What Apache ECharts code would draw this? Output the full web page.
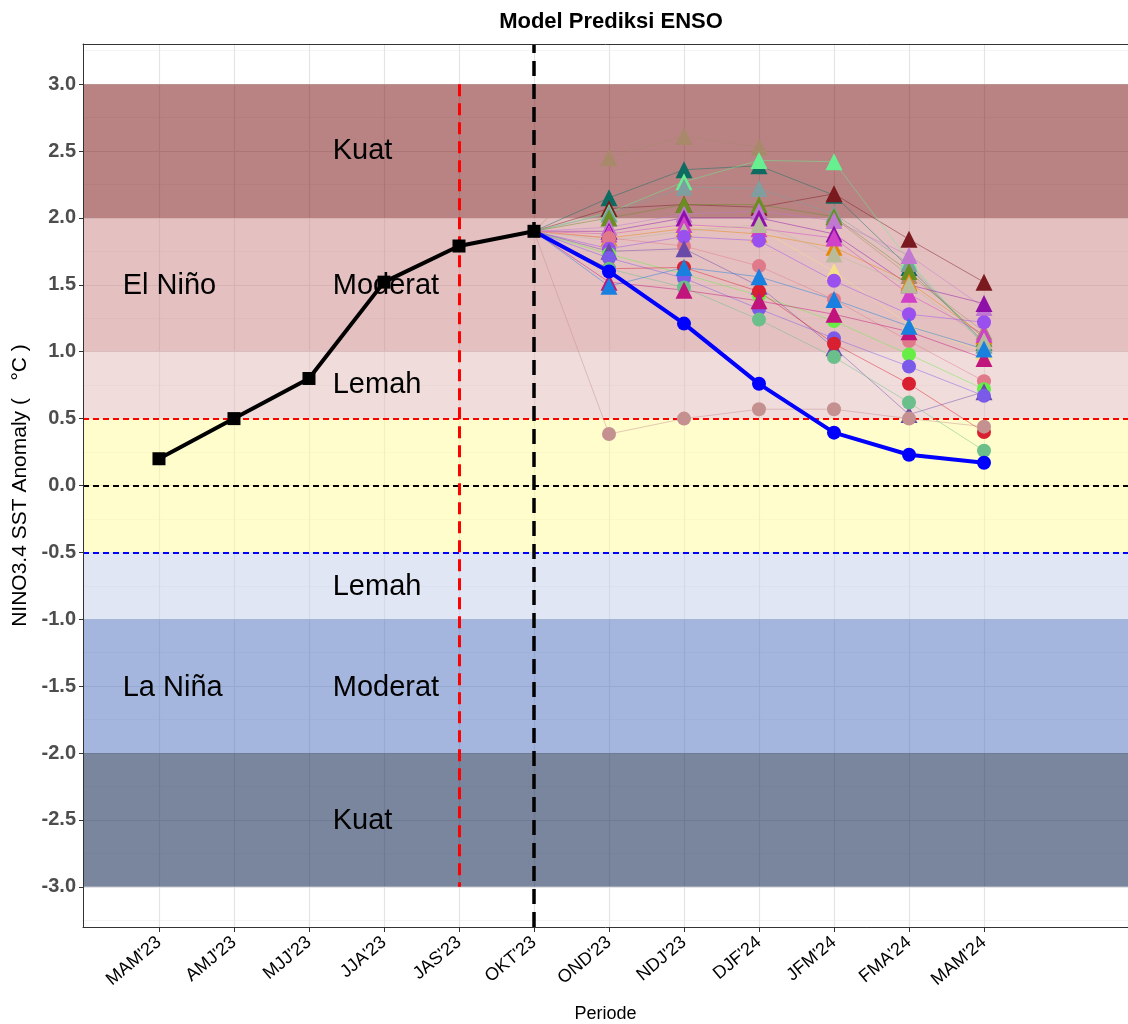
<!DOCTYPE html>
<html>
<head>
<meta charset="utf-8">
<script src="https://cdn.jsdelivr.net/npm/echarts@6/dist/echarts.min.js"></script>
<style>html,body{margin:0;padding:0;background:#fff}#c{width:1128px;height:1024px}</style>
</head>
<body>
<div id="c"></div>
<script>
// ---------- DATA ----------
const categories = ["MAM'23","AMJ'23","MJJ'23","JJA'23","JAS'23","OKT'23","OND'23","NDJ'23","DJF'24","JFM'24","FMA'24","MAM'24"];
const yTicks = [-3.0,-2.5,-2.0,-1.5,-1.0,-0.5,0.0,0.5,1.0,1.5,2.0,2.5,3.0];
const yMinorTicks = [-3.25,-2.75,-2.25,-1.75,-1.25,-0.75,-0.25,0.25,0.75,1.25,1.75,2.25,2.75,3.25];
// observed (MAM'23 .. OKT'23)
const observed = [0.20, 0.50, 0.80, 1.52, 1.79, 1.90];
// mean forecast (OKT'23 .. MAM'24)
const forecastMean = [1.90, 1.60, 1.21, 0.76, 0.395, 0.23, 0.17];
// individual models (OND'23 .. MAM'24); each starts from the OKT'23 value
const m01 = [2.45, 2.61, 2.53, 2.00, 1.57, 1.15];
const m02 = [2.15, 2.36, 2.39, 2.17, 1.63, 1.07];
const m03 = [2.07, 2.10, 2.08, 2.18, 1.84, 1.52];
const m04 = [2.04, 2.27, 2.43, 2.42, 1.68, 1.05];
const m05 = [2.03, 2.23, 2.22, 2.03, 1.66, 1.05];
const m06 = [2.00, 2.10, 2.10, 2.01, 1.60, 1.10];
const m07 = [1.93, 2.03, 2.05, 1.98, 1.72, 1.33];
const m08 = [1.90, 2.00, 2.00, 1.88, 1.50, 1.36];
const m09 = [1.88, 1.94, 1.92, 1.60, 1.20, 1.00];
const m10 = [1.85, 1.92, 1.88, 1.78, 1.52, 1.12];
const m11 = [1.88, 1.95, 1.92, 1.85, 1.43, 1.13];
const m12 = [1.83, 1.90, 1.95, 1.73, 1.50, 1.08];
const m13 = [1.85, 1.79, 1.64, 1.39, 1.08, 0.78];
const m14 = [1.77, 1.86, 1.83, 1.53, 1.28, 1.22];
const m15 = [1.73, 1.58, 1.42, 1.23, 0.98, 0.72];
const m16 = [1.75, 1.77, 1.49, 1.03, 0.53, 0.70];
const m17 = [1.70, 1.55, 1.32, 1.10, 0.89, 0.67];
const m18 = [1.62, 1.63, 1.45, 1.06, 0.76, 0.40];
const m19 = [1.62, 1.48, 1.24, 0.96, 0.62, 0.26];
const m20 = [1.52, 1.46, 1.38, 1.28, 1.15, 0.95];
const m21 = [1.49, 1.63, 1.56, 1.39, 1.19, 1.02];
const m22 = [0.385, 0.50, 0.57, 0.57, 0.50, 0.44];
// category bands (lower, upper)
const bandLimits = [[2,3],[1,2],[0.5,1],[-0.5,0.5],[-1,-0.5],[-2,-1],[-3,-2]];
// annotations: text, category-index x, y
const annotText = ["Kuat","Moderat","Lemah","El Niño","Lemah","La Niña","Moderat","Kuat"];
const annotX = [2.31, 2.31, 2.31, -0.49, 2.31, -0.49, 2.31, 2.31];
const annotY = [2.5, 1.49, 0.75, 1.49, -0.76, -1.51, -1.51, -2.51];

// ---------- STYLES ----------
const models = [m01,m02,m03,m04,m05,m06,m07,m08,m09,m10,m11,m12,m13,m14,m15,m16,m17,m18,m19,m20,m21,m22];
const modelColors = ['#a8896a','#0e6b62','#7a1a1f','#66f090','#7f9ea0','#6b8e23','#c078d0','#8e10a8','#f5e08a','#e8860a','#d040c8','#b8bc9a',
  '#e07a8a','#9a4fef','#66ee44','#6a4aa8','#7a5ae8','#d82030','#6abf8a','#c0147c','#1a80e0','#c49090'];
const modelShapes = ['triangle','triangle','triangle','triangle','triangle','triangle','triangle','triangle','triangle','triangle','triangle','triangle',
  'circle','circle','circle','triangle','circle','circle','circle','triangle','triangle','circle'];
const bandColors = ['rgba(115,7,9,0.5)','rgba(203,129,131,0.5)','rgba(227,185,185,0.5)','rgba(255,251,153,0.5)','rgba(195,205,235,0.5)','rgba(73,109,189,0.5)','rgba(33,53,93,0.6)'];

const startIdx = categories.indexOf("OKT'23");
const fontFam = '"Liberation Sans", Arial, sans-serif';

const series = [];
// gridlines
series.push({
  type:'line', data:[], z:1, silent:true,
  markLine:{z:1, silent:true, symbol:['none','none'], label:{show:false}, animation:false,
    data:[].concat(
      yMinorTicks.map(v=>({yAxis:v, lineStyle:{color:'#ececec', width:0.6, type:'solid'}})),
      yTicks.map(v=>({yAxis:v, lineStyle:{color:'#e4e4e4', width:1.2, type:'solid'}})),
      categories.map((c,i)=>({xAxis:i, lineStyle:{color:'#e4e4e4', width:1.2, type:'solid'}}))
    )}
});
// bands
series.push({
  type:'line', data:[], z:2, silent:true,
  markArea:{z:2, silent:true, animation:false,
    data: bandLimits.map((b,i)=>[{yAxis:b[0], itemStyle:{color:bandColors[i]}},{yAxis:b[1]}])}
});
// reference lines
series.push({
  type:'line', data:[], z:3, silent:true,
  markLine:{z:3, silent:true, symbol:['none','none'], label:{show:false}, animation:false,
    data:[
      {yAxis:0.5, lineStyle:{color:'#ff0000', width:1.8, type:[6,4]}},
      {yAxis:0, lineStyle:{color:'#000000', width:1.8, type:[6,4]}},
      {yAxis:-0.5, lineStyle:{color:'#0000ff', width:1.8, type:[6,4]}},
      [{coord:[categories.indexOf("JAS'23"), 3], lineStyle:{color:'#ff0000', width:3, type:[12,7]}},{coord:[categories.indexOf("JAS'23"), -3]}],
      {xAxis:startIdx, lineStyle:{color:'#000000', width:3.5, type:[15,8]}}
    ]}
});
// model plume
models.forEach((m,k)=>{
  const d = [[startIdx, observed[observed.length-1]]].concat(m.map((v,i)=>[startIdx+1+i, v]));
  series.push({
    type:'line', z:4, silent:true, data:d,
    lineStyle:{color:modelColors[k], width:0.6, opacity:0.8},
    itemStyle:{color:modelColors[k]},
    symbol: (val, p)=> p.dataIndex===0 ? 'none' : modelShapes[k],
    symbolSize: modelShapes[k]==='triangle' ? 17 : 14,
    showSymbol:true, animation:false
  });
});
// observed
series.push({
  type:'line', z:6, data: observed.map((v,i)=>[i,v]),
  lineStyle:{color:'#000', width:4}, itemStyle:{color:'#000'},
  symbol:'rect', symbolSize:13, animation:false
});
// forecast mean
series.push({
  type:'line', z:6, data: forecastMean.map((v,i)=>[startIdx+i,v]),
  lineStyle:{color:'#0000ff', width:4}, itemStyle:{color:'#0000ff'},
  symbol:(val,p)=> p.dataIndex===0 ? 'none' : 'circle', symbolSize:14, animation:false
});
// annotations
series.push({
  type:'scatter', z:7, silent:true, symbolSize:1, animation:false,
  itemStyle:{color:'rgba(0,0,0,0)', opacity:1},
  data: annotText.map((t,i)=>({value:[annotX[i], annotY[i]], name:t})),
  label:{show:true, position:'right', distance:0, align:'left', verticalAlign:'middle', opacity:1,
    formatter:p=>p.name, color:'#000000', fontSize:29, fontFamily:fontFam}
});

const chart = echarts.init(document.getElementById('c'), null, {renderer:'canvas'});
chart.setOption({
  animation:false,
  backgroundColor:'#fff',
  title:{text:'Model Prediksi ENSO', left:606, top:6, textAlign:'center',
    textStyle:{fontSize:22, fontWeight:'bold', color:'#000', fontFamily:fontFam}},
  grid:{left:83, right:0, top:44, bottom:97, containLabel:false, outerBoundsMode:'none'},
  xAxis:[{
    type:'value', min:-1.013, max:12.92, z:10,
    axisLine:{show:true, onZero:false, lineStyle:{color:'#333', width:1}},
    axisTick:{show:true, customValues:categories.map((c,i)=>i), length:5, lineStyle:{color:'#333'}},
    axisLabel:{customValues:categories.map((c,i)=>i), formatter:v=>categories[Math.round(v)]||'', rotate:40,
      fontSize:18, color:'#000', fontFamily:fontFam, margin:13},
    splitLine:{show:false},
    name:'Periode', nameLocation:'middle', nameGap:78,
    nameTextStyle:{fontSize:18, color:'#000', fontFamily:fontFam}
  },{
    type:'value', position:'top', min:-1.013, max:12.92, z:10,
    axisLine:{show:true, onZero:false, lineStyle:{color:'#333', width:1}},
    axisTick:{show:false}, axisLabel:{show:false}, splitLine:{show:false}
  }],
  yAxis:{
    type:'value', min:-3.3, max:3.3, z:10,
    axisLine:{show:true, onZero:false, lineStyle:{color:'#333', width:1}},
    axisTick:{show:true, customValues:yTicks, length:4, lineStyle:{color:'#333'}},
    axisLabel:{customValues:yTicks, formatter:v=>v.toFixed(1), fontSize:20, fontWeight:'bold', color:'#4d4d4d', fontFamily:fontFam, margin:7},
    splitLine:{show:false},
    name:'NINO3.4 SST Anomaly (   °C )', nameLocation:'middle', nameGap:46,
    nameTextStyle:{fontSize:21, color:'#000', fontFamily:fontFam}
  },
  series: series
});
</script>
</body>
</html>
